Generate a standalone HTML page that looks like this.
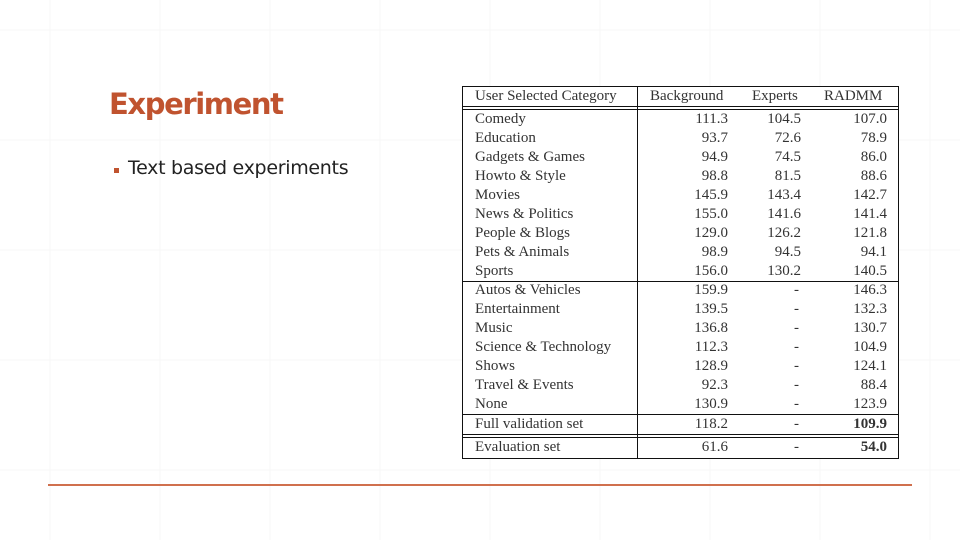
<!DOCTYPE html>
<html><head><meta charset="utf-8"><style>
html,body{margin:0;padding:0}
body{width:960px;height:540px;position:relative;overflow:hidden;background:#fff;font-family:"Liberation Sans",sans-serif}
.grid{position:absolute;inset:0}
.title{position:absolute;left:109px;top:87px;font-size:29px;font-weight:bold;color:#c0532f;font-family:"DejaVu Sans","Liberation Sans",sans-serif;letter-spacing:-1.4px}
.bullet{position:absolute;left:114px;top:168px;width:5px;height:5px;background:#c0532f}
.btext{position:absolute;left:128px;top:157px;font-size:19px;color:#222;font-family:"DejaVu Sans","Liberation Sans",sans-serif;letter-spacing:-0.3px}
.footline{position:absolute;left:48px;top:484px;width:864px;height:2px;background:#d0704e}
#tbl{position:absolute;left:462px;top:86px;width:437px;height:373px;background:#fff;font-family:"Liberation Serif",serif;font-size:15px;color:#333}
.h{position:absolute;background:#111;height:1px}
.v{position:absolute;background:#111;width:1px}
.c{position:absolute;white-space:nowrap;line-height:19px}
</style></head><body>
<svg class="grid" width="960" height="540">
<g stroke="#f7f7f7" stroke-width="1">
<line x1="0" y1="30" x2="960" y2="30"/><line x1="0" y1="140" x2="960" y2="140"/><line x1="0" y1="250" x2="960" y2="250"/><line x1="0" y1="360" x2="960" y2="360"/><line x1="0" y1="470" x2="960" y2="470"/>
<line x1="50" y1="0" x2="50" y2="540"/><line x1="160" y1="0" x2="160" y2="540"/><line x1="270" y1="0" x2="270" y2="540"/><line x1="380" y1="0" x2="380" y2="540"/><line x1="490" y1="0" x2="490" y2="540"/><line x1="600" y1="0" x2="600" y2="540"/><line x1="710" y1="0" x2="710" y2="540"/><line x1="820" y1="0" x2="820" y2="540"/><line x1="930" y1="0" x2="930" y2="540"/>
</g></svg>
<div class="title">Experiment</div>
<div class="bullet"></div>
<div class="btext">Text based experiments</div>
<div class="footline"></div>
<div id="tbl"></div>
<script>
const categories=["Comedy","Education","Gadgets & Games","Howto & Style","Movies","News & Politics","People & Blogs","Pets & Animals","Sports","Autos & Vehicles","Entertainment","Music","Science & Technology","Shows","Travel & Events","None","Full validation set","Evaluation set"];
const background=["111.3","93.7","94.9","98.8","145.9","155.0","129.0","98.9","156.0","159.9","139.5","136.8","112.3","128.9","92.3","130.9","118.2","61.6"];
const experts=["104.5","72.6","74.5","81.5","143.4","141.6","126.2","94.5","130.2","-","-","-","-","-","-","-","-","-"];
const radmm=["107.0","78.9","86.0","88.6","142.7","141.4","121.8","94.1","140.5","146.3","132.3","130.7","104.9","124.1","88.4","123.9","109.9","54.0"];
const t=document.getElementById('tbl');
function add(cls,st,txt){const d=document.createElement('div');d.className=cls;d.style.cssText=st;if(txt!==undefined)d.textContent=txt;t.appendChild(d);return d;}
[[0],[20],[23],[195],[328],[348],[351],[372]].forEach(([y])=>{const l=add('h','left:0;width:437px;top:'+y+'px');

});
[0,175,436].forEach(x=>{const l=add('v','left:'+x+'px;top:0;height:373px');

});
const hdr=[["User Selected Category","left:13px"],["Background","left:188px"],["Experts","left:290px"],["RADMM","left:362px"]];
hdr.forEach(h=>{const d=add('c',h[1]+';top:1px',h[0]);

});
categories.forEach((c,i)=>{
 let y=24+i*19;if(i==16)y=329;if(i==17)y=352;
 const a=add('c','left:13px;top:'+y+'px',c);
 
 
 const b=add('c','right:171px;top:'+y+'px',background[i]);
 
 
 const e=add('c','top:'+y+'px;'+(experts[i]=='-'?'right:100px':'right:98px'),experts[i]);
 
 
 const r=add('c','right:12px;top:'+y+'px'+(i>=16?';font-weight:bold':''),radmm[i]);
 
 
});
</script>
</body></html>
